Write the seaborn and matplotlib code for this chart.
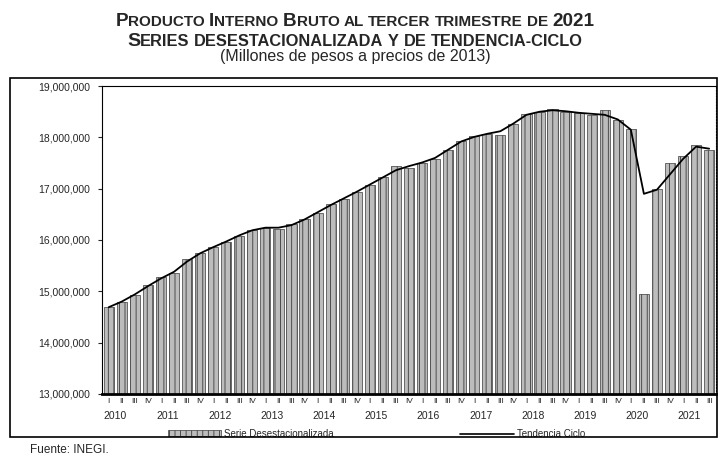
import numpy as np
import pandas as pd
import matplotlib
matplotlib.use('Agg')
import matplotlib.pyplot as plt
import matplotlib.transforms as mtrans
import seaborn as sns
from matplotlib.patches import Patch, Rectangle
from matplotlib.lines import Line2D
from matplotlib.ticker import FuncFormatter, MultipleLocator

# datos (millones de pesos a precios de 2013)
anios = list(range(2010, 2022))
trimestres = ['I', 'II', 'III', 'IV']
serie_desest = [14700000, 14790000, 14930000, 15130000, 15270000, 15360000, 15630000, 15750000,
                15860000, 15960000, 16080000, 16200000, 16240000, 16220000, 16310000, 16400000,
                16520000, 16700000, 16800000, 16930000, 17070000, 17220000, 17440000, 17410000,
                17500000, 17580000, 17760000, 17930000, 18020000, 18070000, 18050000, 18270000,
                18460000, 18490000, 18560000, 18500000, 18480000, 18440000, 18540000, 18340000,
                18170000, 14950000, 17000000, 17500000, 17640000, 17860000, 17760000]
tendencia_ciclo = [14690000, 14800000, 14940000, 15100000, 15250000, 15380000, 15580000, 15740000,
                   15860000, 15970000, 16090000, 16190000, 16240000, 16240000, 16290000, 16400000,
                   16540000, 16680000, 16810000, 16940000, 17080000, 17220000, 17360000, 17440000,
                   17510000, 17600000, 17760000, 17920000, 18010000, 18070000, 18120000, 18270000,
                   18440000, 18500000, 18530000, 18510000, 18480000, 18460000, 18440000, 18350000,
                   18150000, 16900000, 16980000, 17280000, 17580000, 17820000, 17780000]

n = len(serie_desest)
etiquetas_trim = [trimestres[i % 4] for i in range(n)]
df = pd.DataFrame({'pos': np.arange(n), 'serie': serie_desest, 'tend': tendencia_ciclo})

sns.set_theme(style='white')
plt.rcParams['font.family'] = ['Liberation Sans', 'DejaVu Sans']
plt.rcParams['hatch.linewidth'] = 0.6
plt.rcParams['hatch.color'] = '#3a3a3a'

fig = plt.figure(figsize=(7.2, 4.58), dpi=100)
ax = fig.add_axes([0.142, 0.140, 0.852, 0.672])

gris = '#bcbcbc'
sns.barplot(data=df, x='pos', y='serie', color=gris, saturation=1, width=0.78, ax=ax)
for p in ax.patches:
    p.set_hatch('|||')
    p.set_edgecolor('#3a3a3a')
    p.set_linewidth(0.5)
sns.lineplot(data=df, x='pos', y='tend', color='black', lw=1.3, ax=ax)

ax.set_ylim(13000000, 19000000)
ax.set_xlim(-0.5, n - 0.5)
ax.yaxis.set_major_locator(MultipleLocator(1000000))
ax.yaxis.set_major_formatter(FuncFormatter(lambda v, _: f'{v:,.0f}'))
ax.set_xticks(range(n))
ax.set_xticklabels(etiquetas_trim, fontsize=6)
ax.tick_params(axis='x', length=0, pad=3)
ax.tick_params(axis='y', length=3, width=0.8, labelsize=7.5, left=True, pad=6)
ax.set_xlabel('')
ax.set_ylabel('')
for s in ax.spines.values():
    s.set_color('black')
    s.set_linewidth(0.8)
ax.spines['bottom'].set_linewidth(2)
ax.spines['right'].set_linestyle(':')

trans = mtrans.blended_transform_factory(ax.transData, ax.transAxes)
for k, yr in enumerate(anios):
    ax.text(4 * k + 0.5, -0.055, str(yr), transform=trans, ha='center', va='top', fontsize=7.5)

handles = [Patch(facecolor=gris, hatch='|||', edgecolor='#3a3a3a', lw=0.5),
           Line2D([], [], color='black', lw=1.2)]
ax.legend(handles, ['Serie Desestacionalizada', 'Tendencia Ciclo'], ncol=2, loc='upper center',
          bbox_to_anchor=(0.447, -0.085), frameon=False, fontsize=7, columnspacing=13,
          handlelength=5.5, handleheight=0.6, handletextpad=0.3)

# marco exterior
fig.add_artist(Rectangle((10 / 720, 21 / 458), 707 / 720, 359 / 458, transform=fig.transFigure,
                         fill=False, lw=1.2, ec='black'))
fig.text(30 / 720, 1 - 450 / 458, 'Fuente: INEGI.', fontsize=8.5, va='center')


# titulo en versalitas
def versalitas(y_px, palabras, grande, chica, cx=355):
    r = fig.canvas.get_renderer()
    textos = []
    for palabra in palabras:
        grupo = []
        for s, big in palabra:
            t = fig.text(0, 1 - y_px / 458, s, fontsize=grande if big else chica,
                         fontweight='bold', va='baseline', ha='left')
            grupo.append(t)
        textos.append(grupo)
    hueco = chica * 0.28 * 100 / 72
    anchos = [[t.get_window_extent(r).width for t in g] for g in textos]
    total = sum(sum(a) for a in anchos) + hueco * (len(textos) - 1)
    x = cx - total / 2
    for g, a in zip(textos, anchos):
        for t, w in zip(g, a):
            t.set_x(x / 720)
            x += w
        x += hueco


linea1 = [[('P', 1), ('RODUCTO', 0)], [('I', 1), ('NTERNO', 0)], [('B', 1), ('RUTO', 0)],
          [('AL', 0)], [('TERCER', 0)], [('TRIMESTRE', 0)], [('DE', 0)], [('2021', 1)]]
linea2 = [[('S', 1), ('ERIES', 0)], [('DESESTACIONALIZADA', 0)], [('Y', 0)], [('DE', 0)],
          [('TENDENCIA-CICLO', 0)]]
versalitas(26, linea1, 13.6, 11)
versalitas(46, linea2, 14, 11.8)
fig.text(355 / 720, 1 - 61 / 458, '(Millones de pesos a precios de 2013)', fontsize=11.5,
         ha='center', va='baseline')

plt.savefig('out.png', dpi=100)
